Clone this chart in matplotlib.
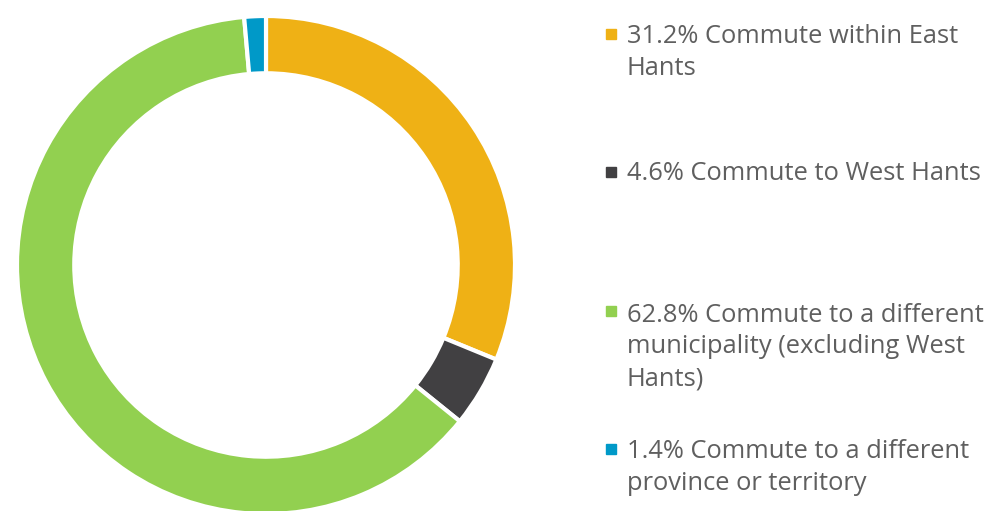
import matplotlib.pyplot as plt
from matplotlib.patches import Rectangle

# Datos
etiquetas = ["31.2% Commute within East\nHants",
             "4.6% Commute to West Hants",
             "62.8% Commute to a different\nmunicipality (excluding West\nHants)",
             "1.4% Commute to a different\nprovince or territory"]
valores = [31.2, 4.6, 62.8, 1.4]
colores = ["#EFB115", "#414042", "#92D050", "#0099C8"]

W, H = 995, 511
fig = plt.figure(figsize=(W / 100, H / 100), dpi=100)

# Dona
cx, cy, r = 266, 265, 249
ax = fig.add_axes([(cx - r) / W, (H - cy - r) / H, 2 * r / W, 2 * r / H])
ax.pie(valores, colors=colores, startangle=90, counterclock=False,
       radius=1.0, wedgeprops=dict(width=0.23, edgecolor="white", linewidth=3))
ax.set_xlim(-1, 1)
ax.set_ylim(-1, 1)
ax.axis("off")

# Leyenda manual (linea base de la primera linea de cada entrada)
bases = [42, 180, 319, 457]
paso = 33
for et, col, b in zip(etiquetas, colores, bases):
    n = et.count("\n")
    fig.patches.append(Rectangle((606 / W, (H - b + 3) / H), 10 / W, 10 / H,
                                 transform=fig.transFigure, color=col))
    fig.text(627 / W, (H - b - paso * n) / H, et, fontsize=18.4, family="Open Sans",
             color="#5f5f5f", va="baseline", ha="left", linespacing=1.35)

fig.savefig("out.png", dpi=100)
